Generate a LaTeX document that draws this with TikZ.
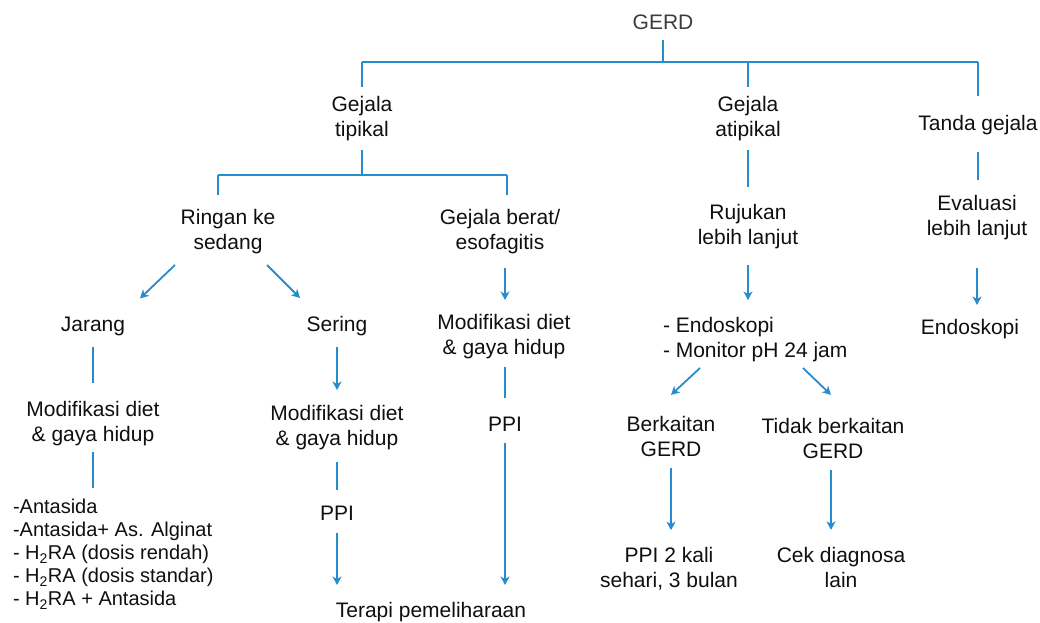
\documentclass[tikz,border=0pt]{standalone}
\usepackage{fontspec}
\setmainfont{Liberation Sans}
\usetikzlibrary{arrows.meta}
\definecolor{flow}{RGB}{38,140,206}
\definecolor{txt}{RGB}{15,15,15}
\tikzset{
  lbl/.style={inner sep=0pt, outer sep=0pt, align=center, text=txt, font=\fontsize{21}{25}\selectfont},
  lst/.style={inner sep=0pt, outer sep=0pt, align=left, text=txt, font=\fontsize{20}{23}\selectfont},
  conn/.style={draw=flow, line width=1.8pt},
  arr/.style={conn, -{Stealth[length=8.5pt,width=9pt,inset=2.5pt]}},
}
\begin{document}
\begin{tikzpicture}[x=1pt,y=-1pt]
\useasboundingbox (0,0) rectangle (1040,622);
% nodes
\node[lbl, text={rgb,255:red,60;green,60;blue,60}] (gerd) at (663,21.9) {GERD};
\node[lbl] (tip) at (362,118.6) {Gejala\\tipikal};
\node[lbl] (atip) at (748,118.6) {Gejala\\atipikal};
\node[lbl] (tanda) at (978,125.1) {Tanda gejala};
\node[lbl] (ringan) at (228,231.6) {Ringan ke\\sedang};
\node[lbl] (berat) at (500,231.6) {Gejala berat/\\esofagitis};
\node[lbl] (rujukan) at (748,226.6) {Rujukan\\lebih lanjut};
\node[lbl] (eval) at (977,217.6) {Evaluasi\\lebih lanjut};
\node[lbl] (jarang) at (93,326.1) {Jarang};
\node[lbl] (sering) at (337,326.1) {Sering};
\node[lbl] (modb) at (504,336.6) {Modifikasi diet\\\& gaya hidup};
\node[lbl, align=left, anchor=west] (endo) at (663,339.6) {- Endoskopi\\- Monitor pH 24 jam};
\node[lbl] (endor) at (970,329.1) {Endoskopi};
\node[lbl] (modj) at (93,423.6) {Modifikasi diet\\\& gaya hidup};
\node[lbl] (mods) at (337,427.6) {Modifikasi diet\\\& gaya hidup};
\node[lbl] (ppib) at (505,423.9) {PPI};
\node[lbl] (berk) at (671,436.4) {Berkaitan\\GERD};
\node[lbl] (tidak) at (833,438.4) {Tidak berkaitan\\GERD};
\node[lst, anchor=west] (list) at (13,554.2) {-Antasida\\-Antasida+ As. Alginat\\- H\textsubscript{2}RA (dosis rendah)\\- H\textsubscript{2}RA (dosis standar)\\- H\textsubscript{2}RA + Antasida};
\node[lbl] (ppis) at (337,512.9) {PPI};
\node[lbl] (ppi2) at (669,568.9) {PPI 2 kali\\sehari, 3 bulan};
\node[lbl] (cek) at (841,567.4) {Cek diagnosa\\lain};
\node[lbl] (terapi) at (431,612.1) {Terapi pemeliharaan};
% tree bars
\coordinate (bar1) at (663,62);
\coordinate (bar2) at (362,175);
\coordinate (b2l) at (218,175);
\coordinate (b2r) at (507,175);
\draw[conn, shorten <=10.5pt] (gerd.south) -- (bar1);
\draw[conn] (tip.north |- bar1) -- (tanda.north |- bar1);
\draw[conn, shorten >=9.3pt] (tip.north |- bar1) -- (tip.north);
\draw[conn, shorten >=9.3pt] (atip.north |- bar1) -- (atip.north);
\draw[conn, shorten >=19pt] (tanda.north |- bar1) -- (tanda.north);
\draw[conn, shorten <=9pt] (tip.south) -- (bar2);
\draw[conn] (b2l) -- (b2r);
\draw[conn, shorten >=14.3pt] (b2l) -- (b2l |- ringan.north);
\draw[conn, shorten >=14.3pt] (b2r) -- (b2r |- berat.north);
\draw[conn, shorten <=9pt, shorten >=17.3pt] (atip.south) -- (rujukan.north);
\draw[conn, shorten <=17pt, shorten >=15.3pt] (tanda.south) -- (tanda.south |- eval.north);
% left part
\draw[arr] ([shift={(-53,11.1)}]ringan.south) -- ([shift={(47,-18.3)}]jarang.north);
\draw[arr] ([shift={(39,11.1)}]ringan.south) -- ([shift={(-37,-18.3)}]sering.north);
\draw[conn, shorten <=11pt, shorten >=18.3pt] (jarang.south) -- (modj.north);
\draw[conn, shorten <=6pt, shorten >=11.4pt] (modj.south) -- (modj.south |- list.north);
\draw[arr, shorten <=11pt, shorten >=15.3pt] (sering.south) -- (mods.north);
\draw[conn, shorten <=12pt, shorten >=15.3pt] (mods.south) -- (ppis.north);
\draw[arr, shorten <=12.5pt, shorten >=17.3pt] (ppis.south) -- (ppis.south |- terapi.north);
% berat column
\draw[arr, shorten <=14pt, shorten >=14.3pt] (ppib.north |- berat.south) -- (ppib.north |- modb.north);
\draw[conn, shorten <=8pt, shorten >=18.3pt] (ppib.north |- modb.south) -- (ppib.north);
\draw[arr, shorten <=11.5pt, shorten >=17.3pt] (ppib.south) -- (ppib.south |- terapi.north);
% atipikal column
\draw[arr, shorten <=16pt, shorten >=17.3pt] (rujukan.south) -- (rujukan.south |- endo.north);
\draw[arr] ([shift={(37,6.1)}]endo.south west) -- ([shift={(0,-21.3)}]berk.north);
\draw[arr] ([shift={(140,6.1)}]endo.south west) -- ([shift={(-2,-23.3)}]tidak.north);
\draw[arr, shorten <=11.5pt, shorten >=17.3pt] (berk.south) -- (berk.south |- ppi2.north);
\draw[arr, shorten <=11.5pt, shorten >=17.3pt] ([xshift=-2pt]tidak.south) -- ([xshift=-2pt]tidak.south |- cek.north);
% tanda column
\draw[arr, shorten <=28pt, shorten >=14.3pt] (eval.south) -- (eval.south |- endor.north);
\end{tikzpicture}
\end{document}
